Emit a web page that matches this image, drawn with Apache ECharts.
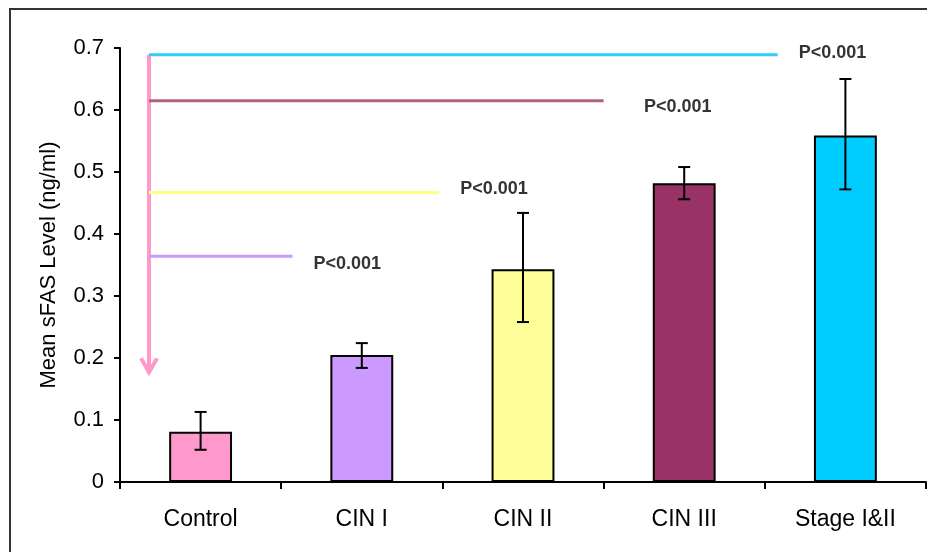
<!DOCTYPE html>
<html>
<head>
<meta charset="utf-8">
<script src="https://cdn.jsdelivr.net/npm/echarts@6/dist/echarts.min.js"></script>
<style>
  html, body { margin: 0; padding: 0; background: #fff; }
  #chart { width: 927px; height: 552px; }
</style>
</head>
<body>
<div id="chart"></div>
<script>
var categories = ['Control', 'CIN I', 'CIN II', 'CIN III', 'Stage I&II'];
var means = [0.081, 0.205, 0.343, 0.482, 0.559];
var errLow = [0.052, 0.184, 0.258, 0.456, 0.472];
var errHigh = [0.113, 0.224, 0.434, 0.508, 0.650];
var barColors = ['#FF99CC', '#CC99FF', '#FFFF99', '#993366', '#00CCFF'];

// comparison brackets: level, where the line ends (category position 0..5)
var pLevels = [0.364, 0.467, 0.615, 0.689];
var pEnds = [1.07, 1.98, 3.0, 4.08];
var pColors = ['#CC99FF', '#FFFF88', '#B0607F', '#33CCFF'];
var pLabelX = [1.41, 2.32, 3.46, 4.42];
var pLabelY = [0.352, 0.473, 0.605, 0.692];
var pText = 'P<0.001';
var arrowX = 0.18;
var arrowFrom = 0.689;
var arrowTo = 0.177;

var font = "'Liberation Sans', Arial, sans-serif";
var chart = echarts.init(document.getElementById('chart'));

var series = [];
series.push({
  type: 'bar',
  barWidth: '39%',
  data: means.map(function (v, i) {
    return { value: v, itemStyle: { color: barColors[i] } };
  }),
  itemStyle: { borderColor: '#000', borderWidth: 2 },
  z: 3
});
series.push({
  type: 'custom',
  z: 5,
  data: categories.map(function (c, i) { return [i, errLow[i], errHigh[i]]; }),
  renderItem: function (params, api) {
    var lo = api.coord([api.value(0), api.value(1)]);
    var hi = api.coord([api.value(0), api.value(2)]);
    var w = 6;
    var st = { stroke: '#000', lineWidth: 2 };
    return {
      type: 'group',
      children: [
        { type: 'line', shape: { x1: lo[0], y1: lo[1], x2: hi[0], y2: hi[1] }, style: st },
        { type: 'line', shape: { x1: lo[0] - w, y1: lo[1], x2: lo[0] + w, y2: lo[1] }, style: st },
        { type: 'line', shape: { x1: hi[0] - w, y1: hi[1], x2: hi[0] + w, y2: hi[1] }, style: st }
      ]
    };
  }
});
pLevels.forEach(function (lv, i) {
  series.push({
    type: 'line',
    xAxisIndex: 1,
    symbol: 'none',
    silent: true,
    lineStyle: { color: pColors[i], width: 3 },
    data: [[arrowX, lv], [pEnds[i], lv]],
    z: 2
  });
});
series.push({
  type: 'custom',
  xAxisIndex: 1,
  z: 2,
  data: [[arrowX, arrowFrom, arrowTo]],
  renderItem: function (params, api) {
    var a = api.coord([api.value(0), api.value(1)]);
    var b = api.coord([api.value(0), api.value(2)]);
    var st = { stroke: '#FF99CC', lineWidth: 4, fill: null };
    return {
      type: 'group',
      children: [
        { type: 'line', shape: { x1: a[0], y1: a[1], x2: b[0], y2: b[1] }, style: st },
        { type: 'polyline', shape: { points: [[b[0] - 8, b[1] - 14], [b[0], b[1]], [b[0] + 8, b[1] - 14]] }, style: st }
      ]
    };
  }
});
series.push({
  type: 'scatter',
  xAxisIndex: 1,
  symbolSize: 0,
  silent: true,
  data: pLabelX.map(function (x, i) { return [x, pLabelY[i]]; }),
  label: {
    show: true,
    position: 'inside',
    formatter: pText,
    color: '#000',
    fontFamily: font,
    fontWeight: 'bold',
    fontSize: 18
  },
  z: 6
});

chart.setOption({
  animation: false,
  backgroundColor: '#fff',
  graphic: [{
    type: 'rect',
    shape: { x: 10, y: 9, width: 960, height: 600 },
    style: { fill: null, stroke: '#333', lineWidth: 2 },
    silent: true
  }],
  grid: { left: 120, right: 1, top: 48, bottom: 70 },
  xAxis: [{
    type: 'category',
    data: categories,
    axisLine: { lineStyle: { color: '#000', width: 2 } },
    axisTick: { show: true, length: 7, lineStyle: { color: '#000', width: 2 } },
    axisLabel: { color: '#000', fontFamily: font, fontSize: 23, margin: 26 },
    splitLine: { show: false }
  }, {
    type: 'value',
    min: 0,
    max: 5,
    show: false
  }],
  yAxis: {
    type: 'value',
    min: 0,
    max: 0.7,
    interval: 0.1,
    name: 'Mean sFAS Level (ng/ml)',
    nameLocation: 'middle',
    nameGap: 60,
    nameTextStyle: { color: '#000', fontFamily: font, fontSize: 22 },
    axisLine: { show: true, lineStyle: { color: '#000', width: 2 } },
    axisTick: { show: true, length: 6, lineStyle: { color: '#000', width: 2 } },
    axisLabel: {
      color: '#000', fontFamily: font, fontSize: 22, margin: 16,
      formatter: function (v) { return v === 0 ? '0' : v.toFixed(1); }
    },
    splitLine: { show: false }
  },
  series: series
});
</script>
</body>
</html>
